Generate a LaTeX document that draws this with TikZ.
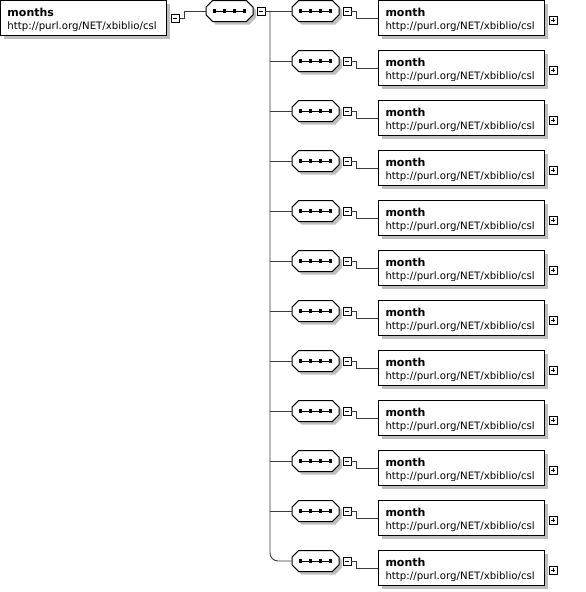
\documentclass[tikz,border=0pt]{standalone}
\usepackage{fontspec}
\setmainfont{DejaVu Sans}
\usetikzlibrary{shapes.misc, positioning}
\definecolor{ShadowGrey}{RGB}{190,190,190}
\definecolor{LineGrey}{RGB}{60,60,60}
\newcommand{\cslurl}{http://purl.org/NET/xbiblio/csl}
\newcommand{\elemname}[1]{\rule{0pt}{11.4pt}{\fontsize{11}{13}\selectfont\bfseries #1}}
% the four-dot sequence mark inside an octagon
\newcommand{\seqicon}[1]{%
  \draw[black, line width=1pt] ([xshift=-15pt]#1.center) -- ([xshift=15pt]#1.center);
  \foreach \dx in {-15,-5,5,15}
    \fill[black] ([xshift=\dx pt]#1.center) +(-1.7pt,-1.7pt) rectangle +(1.7pt,1.7pt);}

\begin{document}
\begin{tikzpicture}[x=1pt, y=-1pt,
    boxshadow/.style={preaction={fill=ShadowGrey, draw=none, transform canvas={shift={(3pt,-3pt)}}}},
    elembox/.style={draw, line width=1pt, fill=white, minimum width=166pt, minimum height=35pt,
      text width=152pt, align=left, inner xsep=7pt, inner ysep=0pt,
      font=\fontsize{10.2}{13}\selectfont, boxshadow},
    seqbox/.style={chamfered rectangle, chamfered rectangle xsep=5pt,
      draw, line width=1pt, fill=white, minimum width=47pt, minimum height=21pt, boxshadow},
    minusbox/.style={draw, line width=0.8pt, fill=white, minimum size=8pt, inner sep=0pt,
      path picture={\draw[black, line width=0.8pt] ([xshift=2pt]path picture bounding box.west) -- ([xshift=-2pt]path picture bounding box.east);}},
    plusbox/.style={draw, line width=0.8pt, fill=white, minimum size=8pt, inner sep=0pt,
      path picture={
        \draw[black, line width=0.8pt] ([xshift=2pt]path picture bounding box.west) -- ([xshift=-2pt]path picture bounding box.east);
        \draw[black, line width=0.8pt] ([yshift=2pt]path picture bounding box.south) -- ([yshift=-2pt]path picture bounding box.north);}},
    connector/.style={draw=LineGrey, line width=0.9pt}
  ]
  \useasboundingbox (0,0) rectangle (586,592);

  % root element and its sequence
  \node[elembox] (months) at (83.5,18) {\elemname{months}\\\cslurl};
  \node[minusbox] (months-m) at (175,18) {};
  \node[seqbox] (seq) at (229.5,11) {};
  \seqicon{seq}
  \node[minusbox] (seq-m) at (261,11) {};
  \coordinate (trunk) at (270,11);
  \draw[connector] (months-m.east) -- ++(5,0) |- (seq.west);

  % the twelve month children
  \foreach \i in {0,...,11}{
    \pgfmathsetmacro{\ry}{11+50*\i}
    \node[seqbox] (s\i) at (315.5,\ry) {};
    \seqicon{s\i}
    \node[minusbox] (s\i-m) at (347,\ry) {};
    \node[elembox] (month\i) at (461.5,\ry+7) {\elemname{month}\\\cslurl};
    \node[plusbox] (month\i-p) at (553,\ry+9) {};
    \draw[connector] (s\i-m.east) -- ++(5,0) |- (month\i.west);
  }

  \draw[connector] (seq-m.east) -- (s0.west);
  \draw[connector, rounded corners=8pt] (trunk) |- (s11.west);
  \foreach \i in {1,...,10}
    \draw[connector] (s\i.west) -- (s\i.west -| trunk);
\end{tikzpicture}
\end{document}
